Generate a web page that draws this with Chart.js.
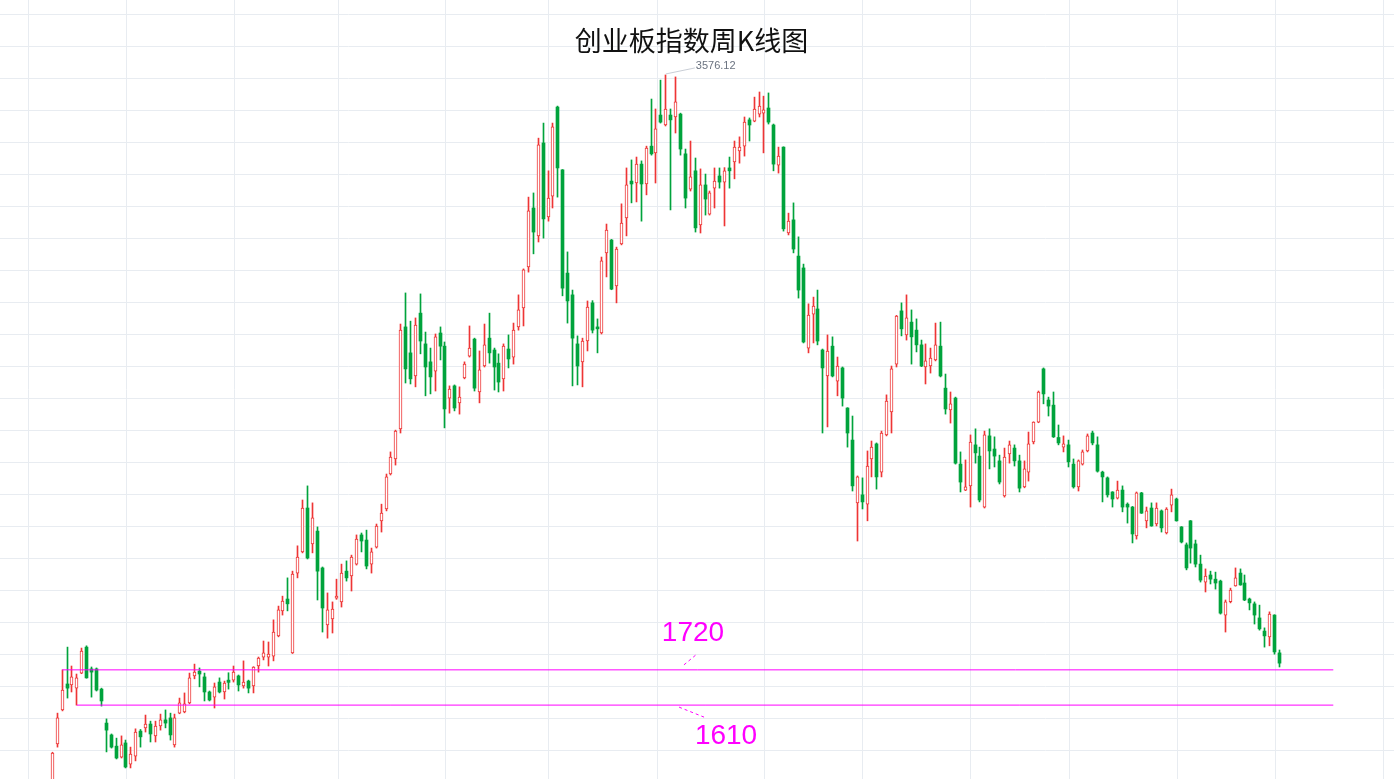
<!DOCTYPE html>
<html lang="zh-CN">
<head>
<meta charset="utf-8">
<title>创业板指数周K线图</title>
<script src="https://cdn.jsdelivr.net/npm/chart.js@4.4.0/dist/chart.umd.min.js"></script>
<style>
    html, body { margin: 0; padding: 0; background: #fff; overflow: hidden; }
    #wrap { position: relative; width: 1394px; height: 779px; }
    #title {
        position: absolute; left: 0; top: 20px; width: 1383px;
        text-align: center; color: #111;
        font-family: "Noto Sans CJK SC", "Noto Sans", sans-serif; font-size: 27px;
        pointer-events: none;
    }
</style>
</head>
<body>
<div id="wrap">
    <canvas id="kChart"></canvas>
    <div id="title">创业板指数周K线图</div>
</div>
<script>
// Weekly OHLC values (index points), one entry per week
const openV = [
    1345, 1489, 1595, 1676, 1673, 1663, 1710, 1791, 1723, 1723,
    1660, 1554, 1517, 1482, 1448, 1492, 1426, 1451, 1529, 1539,
    1551, 1514, 1545, 1564, 1570, 1486, 1585, 1589, 1617, 1701,
    1716, 1698, 1651, 1635, 1682, 1651, 1688, 1688, 1701, 1670,
    1685, 1670, 1732, 1760, 1760, 1763, 1826, 1904, 1941, 1773,
    2022, 2088, 2225, 2113, 2153, 2038, 1860, 1879, 1944, 1932,
    2028, 2013, 2050, 2141, 2125, 2050, 2103, 2185, 2222, 2331,
    2378, 2472, 2790, 2709, 2637, 2833, 2737, 2681, 2652, 2771,
    2730, 2568, 2606, 2553, 2631, 2699, 2752, 2587, 2668, 2755,
    2718, 2677, 2628, 2721, 2696, 2790, 2849, 2977, 3161, 3074,
    3364, 3133, 3198, 3476, 3280, 2958, 2890, 2737, 2681, 2746,
    2865, 2790, 2771, 3021, 3061, 2918, 3049, 3130, 3245, 3239,
    3298, 3236, 3354, 3333, 3451, 3420, 3451, 3445, 3454, 3330,
    3220, 3277, 3108, 3233, 3142, 3223, 3261, 3242, 3286, 3305,
    3339, 3354, 3436, 3432, 3454, 3457, 3473, 3420, 3295, 3351,
    3083, 3124, 3011, 2974, 2724, 2830, 2846, 2718, 2637, 2730,
    2621, 2662, 2537, 2437, 2241, 2266, 2237, 2378, 2425, 2337,
    2453, 2525, 2674, 2840, 2765, 2805, 2780, 2734, 2665, 2668,
    2687, 2730, 2599, 2531, 2568, 2362, 2281, 2294, 2422, 2387,
    2228, 2450, 2409, 2372, 2263, 2394, 2412, 2372, 2291, 2337,
    2431, 2493, 2659, 2562, 2546, 2445, 2415, 2422, 2362, 2291,
    2362, 2403, 2459, 2422, 2337, 2319, 2275, 2256, 2281, 2237,
    2228, 2138, 2272, 2185, 2225, 2175, 2216, 2147, 2234, 2253,
    2166, 2110, 2185, 2113, 2050, 1994, 2016, 2003, 1997, 1891,
    1933, 1982, 2022, 1991, 1941, 1926, 1882, 1841, 1823, 1891,
    1773
];
const closeV = [
    1460, 1570, 1657, 1663, 1698, 1695, 1779, 1695, 1713, 1657,
    1623, 1532, 1479, 1445, 1486, 1417, 1457, 1526, 1511, 1551,
    1520, 1545, 1564, 1554, 1517, 1570, 1617, 1614, 1695, 1713,
    1707, 1651, 1626, 1667, 1651, 1679, 1681, 1713, 1673, 1682,
    1663, 1729, 1757, 1773, 1769, 1838, 1907, 1935, 1926, 2019,
    2072, 2225, 2069, 2194, 2028, 1913, 1907, 1910, 1950, 2022,
    2007, 2072, 2128, 2122, 2044, 2088, 2169, 2209, 2322, 2384,
    2465, 2780, 2659, 2628, 2796, 2746, 2665, 2634, 2759, 2730,
    2534, 2596, 2537, 2571, 2674, 2724, 2599, 2656, 2734, 2709,
    2665, 2618, 2730, 2690, 2780, 2843, 2968, 3152, 3086, 3358,
    3127, 3192, 3414, 3286, 2911, 2871, 2755, 2668, 2746, 2852,
    2780, 2784, 2996, 3092, 2908, 3033, 3114, 3233, 3236, 3298,
    3236, 3348, 3330, 3408, 3429, 3470, 3436, 3492, 3345, 3192,
    3258, 3099, 3233, 3189, 3208, 3245, 3242, 3277, 3277, 3351,
    3351, 3429, 3420, 3470, 3479, 3467, 3429, 3298, 3323, 3096,
    3120, 3033, 2905, 2743, 2827, 2855, 2746, 2662, 2715, 2637,
    2668, 2568, 2459, 2294, 2322, 2244, 2356, 2415, 2322, 2459,
    2559, 2659, 2824, 2784, 2818, 2759, 2734, 2668, 2684, 2693,
    2734, 2637, 2534, 2550, 2365, 2306, 2291, 2431, 2397, 2250,
    2453, 2403, 2387, 2306, 2384, 2422, 2372, 2287, 2347, 2425,
    2493, 2587, 2581, 2543, 2447, 2428, 2425, 2369, 2291, 2372,
    2400, 2450, 2428, 2340, 2322, 2266, 2253, 2281, 2228, 2228,
    2144, 2272, 2209, 2216, 2169, 2225, 2163, 2222, 2266, 2185,
    2119, 2038, 2100, 2050, 2000, 2013, 2003, 1991, 1897, 1932,
    1969, 2007, 1985, 1938, 1929, 1891, 1848, 1826, 1894, 1776,
    1741
];
const highV = [
    1463, 1585, 1720, 1791, 1732, 1707, 1788, 1795, 1729, 1726,
    1663, 1567, 1520, 1507, 1514, 1501, 1479, 1536, 1534, 1579,
    1560, 1560, 1582, 1595, 1585, 1582, 1632, 1648, 1710, 1738,
    1726, 1710, 1654, 1679, 1695, 1685, 1711, 1732, 1704, 1748,
    1688, 1730, 1760, 1810, 1807, 1876, 1919, 1950, 2007, 2028,
    2107, 2250, 2294, 2241, 2166, 2041, 1960, 1932, 2003, 2050,
    2060, 2078, 2141, 2147, 2156, 2100, 2175, 2237, 2331, 2400,
    2468, 2799, 2896, 2808, 2818, 2893, 2774, 2724, 2768, 2790,
    2743, 2606, 2609, 2603, 2681, 2793, 2755, 2715, 2799, 2833,
    2724, 2706, 2737, 2765, 2802, 2890, 2971, 3195, 3208, 3379,
    3426, 3277, 3426, 3479, 3281, 3024, 2905, 2762, 2755, 2871,
    2872, 2815, 3008, 3111, 3063, 3039, 3174, 3286, 3311, 3320,
    3308, 3354, 3501, 3470, 3560, 3576.12, 3470, 3570, 3457, 3345,
    3370, 3317, 3283, 3267, 3214, 3286, 3286, 3287, 3320, 3370,
    3383, 3445, 3442, 3507, 3523, 3510, 3520, 3423, 3351, 3352,
    3145, 3177, 3071, 2986, 2862, 2883, 2905, 2721, 2765, 2759,
    2696, 2665, 2538, 2512, 2325, 2319, 2403, 2434, 2428, 2465,
    2578, 2668, 2826, 2865, 2890, 2843, 2815, 2749, 2737, 2724,
    2802, 2805, 2643, 2587, 2571, 2400, 2375, 2453, 2472, 2415,
    2465, 2472, 2447, 2390, 2412, 2434, 2422, 2390, 2372, 2462,
    2494, 2590, 2662, 2571, 2587, 2484, 2450, 2437, 2378, 2375,
    2406, 2456, 2465, 2447, 2340, 2322, 2276, 2309, 2294, 2241,
    2230, 2275, 2274, 2228, 2241, 2241, 2219, 2226, 2284, 2256,
    2167, 2116, 2186, 2125, 2078, 2035, 2028, 2025, 2000, 1938,
    1975, 2038, 2035, 2016, 1944, 1932, 1922, 1851, 1901, 1892,
    1782
];
const lowV = [
    1330, 1479, 1592, 1632, 1651, 1610, 1708, 1694, 1635, 1654,
    1607, 1464, 1476, 1442, 1445, 1414, 1414, 1436, 1479, 1526,
    1495, 1495, 1532, 1539, 1501, 1479, 1583, 1586, 1614, 1692,
    1667, 1623, 1623, 1601, 1648, 1629, 1660, 1682, 1654, 1663,
    1648, 1648, 1713, 1751, 1732, 1748, 1823, 1891, 1904, 1771,
    2007, 2085, 2066, 2085, 1938, 1838, 1819, 1835, 1940, 1916,
    1997, 1966, 2047, 2088, 2035, 2022, 2100, 2150, 2216, 2328,
    2359, 2459, 2615, 2612, 2603, 2706, 2575, 2581, 2590, 2687,
    2475, 2521, 2528, 2518, 2628, 2696, 2590, 2553, 2665, 2677,
    2593, 2587, 2590, 2662, 2674, 2780, 2793, 2961, 3018, 3055,
    3067, 3120, 3161, 3195, 2887, 2802, 2606, 2609, 2603, 2715,
    2771, 2709, 2768, 2946, 2906, 2865, 3046, 3074, 3177, 3180,
    3120, 3202, 3326, 3239, 3426, 3417, 3155, 3395, 3326, 3161,
    3214, 3086, 3083, 3139, 3139, 3161, 3223, 3105, 3223, 3252,
    3301, 3323, 3370, 3430, 3445, 3333, 3423, 3277, 3270, 3089,
    3077, 3021, 2880, 2740, 2709, 2740, 2734, 2459, 2478, 2634,
    2575, 2543, 2415, 2278, 2122, 2222, 2185, 2322, 2284, 2322,
    2450, 2459, 2665, 2762, 2749, 2674, 2712, 2666, 2612, 2646,
    2684, 2634, 2518, 2490, 2362, 2275, 2279, 2228, 2365, 2244,
    2225, 2347, 2353, 2300, 2259, 2365, 2356, 2275, 2288, 2309,
    2425, 2491, 2550, 2512, 2445, 2422, 2400, 2353, 2287, 2278,
    2359, 2400, 2422, 2337, 2244, 2259, 2228, 2253, 2213, 2178,
    2116, 2128, 2208, 2163, 2168, 2169, 2150, 2144, 2213, 2184,
    2116, 2032, 2053, 2041, 1994, 1963, 1988, 1972, 1894, 1838,
    1929, 1981, 1984, 1936, 1907, 1863, 1844, 1791, 1795, 1769,
    1729
];
const weeks = openV.map((_, i) => i);

// Horizontal support lines drawn on the chart
const levelValues = [1720, 1610];
const levelLabels = ['1720', '1610'];
const levelStart = [2, 5];     // week the ray starts from
const levelEnd = 261;

const RED = '#ee3535';
const GREEN = '#00a33c';
const MAGENTA = '#ff00ff';

const isUp = i => closeV[i] >= openV[i];
const upAt = ctx => ctx.dataIndex !== undefined && isUp(ctx.dataIndex);

// light paper grid behind everything
const gridBg = {
    id: 'gridBg',
    beforeDraw(chart) {
        const ctx = chart.ctx;
        ctx.save();
        ctx.fillStyle = '#fff';
        ctx.fillRect(0, 0, chart.width, chart.height);
        ctx.strokeStyle = '#e8ecf1';
        ctx.lineWidth = 1;
        const xs = [28, 126, 234, 338, 445, 548, 657, 764, 862, 970, 1069, 1177, 1275, 1383];
        ctx.beginPath();
        xs.forEach(x => {
            ctx.moveTo(x + 0.5, 0);
            ctx.lineTo(x + 0.5, chart.height);
        });
        for (let y = 14; y < chart.height; y += 32) {
            ctx.moveTo(0, y + 0.5);
            ctx.lineTo(chart.width, y + 0.5);
        }
        ctx.stroke();
        ctx.restore();
    }
};

// snap candle centres to the pixel grid so 1px wicks stay crisp
const snapCandles = {
    id: 'snapCandles',
    afterDatasetsUpdate(chart) {
        [0, 1].forEach(d => {
            chart.getDatasetMeta(d).data.forEach(el => {
                el.x = Math.floor(el.x) + 0.5;
            });
        });
    }
};

// peak label and the two level labels
const notes = {
    id: 'notes',
    afterDatasetsDraw(chart) {
        const ctx = chart.ctx;
        const xs = chart.scales.x;
        const ys = chart.scales.y;
        ctx.save();

        // peak
        let top = 0;
        highV.forEach((v, i) => { if (v > highV[top]) top = i; });
        const px = xs.getPixelForValue(top);
        const py = ys.getPixelForValue(highV[top]);
        ctx.strokeStyle = '#c9ced6';
        ctx.lineWidth = 1;
        ctx.beginPath();
        ctx.moveTo(px, py - 1);
        ctx.lineTo(px + 29, py - 7);
        ctx.stroke();
        ctx.fillStyle = '#6b7380';
        ctx.font = '11px "Liberation Sans", Arial, sans-serif';
        ctx.textBaseline = 'middle';
        ctx.textAlign = 'left';
        ctx.fillText(highV[top].toFixed(2), px + 30, py - 9);

        // level labels
        ctx.strokeStyle = MAGENTA;
        ctx.fillStyle = MAGENTA;
        ctx.setLineDash([3, 3]);
        ctx.font = '28px "Liberation Sans", Arial, sans-serif';
        ctx.textAlign = 'center';

        const ax = xs.getPixelForValue(128.7);
        const ay = ys.getPixelForValue(levelValues[0]);
        ctx.beginPath();
        ctx.moveTo(ax, ay - 5);
        ctx.lineTo(ax + 12, ay - 15);
        ctx.stroke();
        ctx.fillText(levelLabels[0], ax + 9, ay - 37);

        const bx = xs.getPixelForValue(127.7);
        const by = ys.getPixelForValue(levelValues[1]);
        ctx.beginPath();
        ctx.moveTo(bx, by + 2);
        ctx.lineTo(bx + 25, by + 12);
        ctx.stroke();
        ctx.fillText(levelLabels[1], bx + 47, by + 31);

        ctx.restore();
    }
};

const levelSets = levelValues.map((v, k) => ({
    type: 'line',
    label: levelLabels[k],
    data: [{ x: levelStart[k], y: v }, { x: levelEnd, y: v }],
    borderColor: MAGENTA,
    borderWidth: 1,
    pointRadius: 0,
    tension: 0,
    order: 0
}));

new Chart(document.getElementById('kChart'), {
    type: 'bar',
    data: {
        datasets: [
            {
                label: '影线',
                data: weeks.map(i => ({ x: i, y: [lowV[i], highV[i]] })),
                backgroundColor: ctx => upAt(ctx) ? RED : GREEN,
                barThickness: 1,
                grouped: false,
                order: 2
            },
            {
                label: '实体',
                data: weeks.map(i => ({ x: i, y: [openV[i], closeV[i]] })),
                backgroundColor: ctx => upAt(ctx) ? '#fff' : GREEN,
                borderColor: ctx => upAt(ctx) ? RED : GREEN,
                borderWidth: ctx => upAt(ctx) ? 1 : 0,
                borderSkipped: false,
                barThickness: 3,
                grouped: false,
                order: 1
            },
            ...levelSets
        ]
    },
    options: {
        responsive: true,
        maintainAspectRatio: false,
        animation: false,
        layout: { padding: 0 },
        plugins: {
            legend: { display: false },
            tooltip: { enabled: false }
        },
        scales: {
            x: {
                type: 'linear',
                display: false,
                offset: false,
                min: -10.656,
                max: 273.37
            },
            y: {
                display: false,
                min: 1379.5,
                max: 3810
            }
        }
    },
    plugins: [gridBg, snapCandles, notes]
});
</script>
</body>
</html>
